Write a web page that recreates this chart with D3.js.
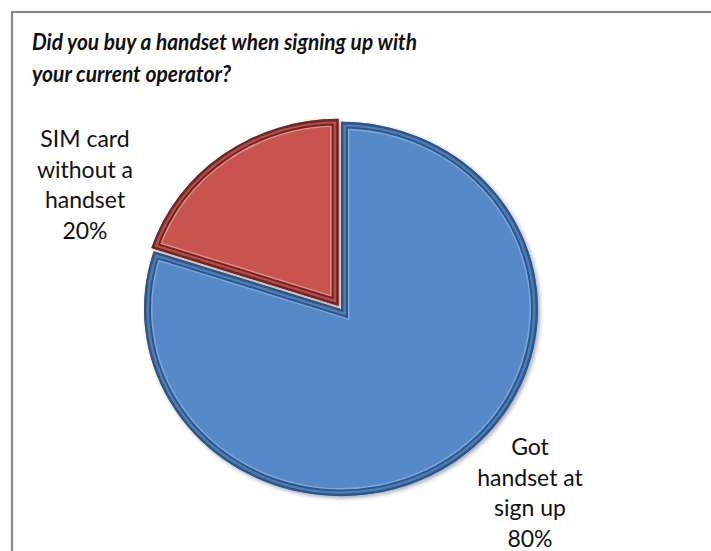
<!DOCTYPE html>
<html><head><meta charset="utf-8">
<script src="https://cdn.jsdelivr.net/npm/d3@7"></script>
<style>
html,body{margin:0;padding:0;background:#fff;}
svg{display:block;}
</style></head>
<body>
<script>
const categories = ["Got handset at sign up", "SIM card without a handset"];
const values = [80, 20];
const labelLines = [["Got", "handset at", "sign up", "80%"], ["SIM card", "without a", "handset", "20%"]];
const titleLines = ["Did you buy a handset when signing up with", "your current operator?"];

const W = 711, H = 551;
const svg = d3.select("body").append("svg").attr("width", W).attr("height", H);

// frame
svg.append("rect").attr("x", 12).attr("y", 12).attr("width", 760).attr("height", 600)
  .attr("fill", "#fff").attr("stroke", "#8a8a8a").attr("stroke-width", 2.2);

// title
const titleW = [385, 199];
titleLines.forEach((t, i) => svg.append("text").attr("font-family", "Lato, 'Open Sans', sans-serif")
  .attr("font-weight", "bold").attr("font-style", "italic").attr("font-size", 22.5).attr("fill", "#111")
  .attr("x", 32).attr("y", 50 + i * 32).attr("textLength", titleW[i]).attr("lengthAdjust", "spacingAndGlyphs").text(t));

const defs = svg.append("defs");
const f = defs.append("filter").attr("id", "sh").attr("x", "-20%").attr("y", "-20%").attr("width", "140%").attr("height", "140%");
f.append("feDropShadow").attr("dx", 2).attr("dy", 2).attr("stdDeviation", 2).attr("flood-color", "#000").attr("flood-opacity", 0.35);
defs.append("filter").attr("id", "soft").append("feGaussianBlur").attr("stdDeviation", 0.7);

const cx = 341, cy = 309, R = 197, sy = 0.95;
const color = d3.scaleOrdinal().domain(categories).range(["#5589C8", "#C9534F"]);
const pal = {
  "Got handset at sign up": {dark: "#2F5686", mid: "#4D7DB9", light: "#7DA8DC"},
  "SIM card without a handset": {dark: "#6E2624", mid: "#BA4B4B", light: "#E39089"}
};
const explode = [0, 4];

const pie = d3.pie().sort(null).value(d => d.v);
const arcs = pie(categories.map((c, i) => ({c, v: values[i]})));
const arc = d3.arc().innerRadius(0).outerRadius(R);

const g = svg.append("g").attr("transform", `translate(${cx},${cy}) scale(1,${sy})`);
arcs.forEach((a, i) => {
  const mid = (a.startAngle + a.endAngle) / 2;
  const ox = Math.sin(mid) * explode[i], oy = -Math.cos(mid) * explode[i];
  const sg = g.append("g").attr("transform", `translate(${ox},${oy})`);
  const p = pal[a.data.c];
  const id = "clip" + i;
  defs.append("clipPath").attr("id", id).append("path").attr("d", arc(a))
    .attr("transform", `translate(${cx + ox},${cy + oy * sy}) scale(1,${sy})`);
  sg.append("path").attr("d", arc(a)).attr("fill", color(a.data.c)).attr("filter", "url(#sh)");
  const inner = svg.append("g").attr("clip-path", `url(#${id})`)
    .append("g").attr("filter", "url(#soft)")
    .append("g").attr("transform", `translate(${cx + ox},${cy + oy * sy}) scale(1,${sy})`);
  [[17, p.light], [14, p.dark], [10, p.mid], [5, p.dark], [2, p.dark]].forEach(([w, c]) => {
    inner.append("path").attr("d", arc(a)).attr("fill", "none").attr("stroke", c)
      .attr("stroke-width", w).attr("stroke-linejoin", "miter");
  });
});

// labels
const labelPos = [[530, 455], [85, 147]];
labelLines.forEach((lines, i) => {
  const t = svg.append("text").attr("font-family", "Lato, 'Open Sans', sans-serif")
    .attr("font-size", 23).attr("fill", "#111").attr("text-anchor", "middle");
  lines.forEach((l, j) => t.append("tspan").attr("x", labelPos[i][0]).attr("y", labelPos[i][1] + j * 30.5).text(l));
});
</script>
</body></html>
